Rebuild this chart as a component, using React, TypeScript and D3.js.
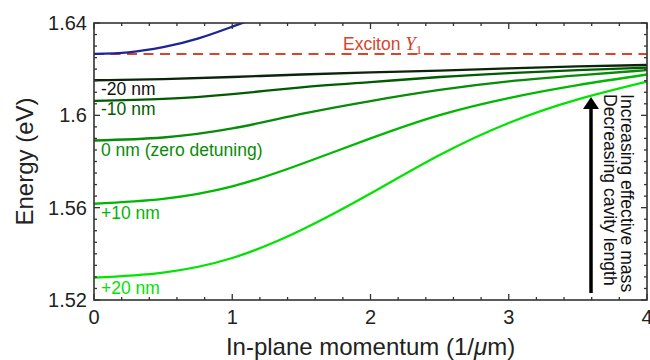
import * as d3 from "d3";

// in-plane momentum grid (1/um)
const momentum = [0, 0.5, 1, 1.5, 2, 2.5, 3, 3.5, 4];

// lower polariton branches (eV)
const lpMinus20 = [1.6152, 1.6157, 1.6166, 1.6177, 1.6186, 1.6194, 1.6203, 1.6212, 1.6218];
const lpMinus10 = [1.6063, 1.6071, 1.6092, 1.6121, 1.6144, 1.6166, 1.6183, 1.6196, 1.6207];
const lpZero = [1.5891, 1.5904, 1.5943, 1.6006, 1.6062, 1.611, 1.6147, 1.6173, 1.6196];
const lpPlus10 = [1.5617, 1.5638, 1.5692, 1.5789, 1.59, 1.6001, 1.6075, 1.6131, 1.6177];
const lpPlus20 = [1.5297, 1.5319, 1.5382, 1.5503, 1.5661, 1.5828, 1.5967, 1.6069, 1.6146];

// bare cavity photon (clipped at the top of the frame)
const photonK = [0, 0.25, 0.5, 0.75, 1.0, 1.1];
const photonE = [1.6266, 1.6273, 1.6295, 1.6332, 1.6384, 1.6406];

const excitonEnergy = 1.6266;

const branchNames = ["-20 nm", "-10 nm", "0 nm (zero detuning)", "+10 nm", "+20 nm"];
const branchColors = ["#0b240b", "#005c00", "#088c08", "#00b800", "#00e400"];
const branches = [lpMinus20, lpMinus10, lpZero, lpPlus10, lpPlus20];

const xTickValues = [0, 1, 2, 3, 4];
const yTickValues = [1.52, 1.56, 1.6, 1.64];
const yTickLabels = ["1.52", "1.56", "1.6", "1.64"];

const W = 650;
const H = 360;
const margin = { top: 23, right: 3, bottom: 60, left: 94 };
const font = "'Liberation Sans', Arial, Helvetica, sans-serif";

export default function App() {
  const x = d3.scaleLinear().domain([0, 4]).range([margin.left, W - margin.right]);
  const y = d3.scaleLinear().domain([1.52, 1.64]).range([H - margin.bottom, margin.top]);

  const line = d3
    .line<[number, number]>()
    .x((d) => x(d[0]))
    .y((d) => y(d[1]))
    .curve(d3.curveNatural);

  const x0 = x(0), x1 = x(4), y0 = y(1.52), y1 = y(1.64);
  const xMinor = x.ticks(20);
  const yMinor = y.ticks(24);
  const axisColor = "#333";

  const ticks: JSX.Element[] = [];
  xMinor.forEach((v, i) => {
    const major = xTickValues.some((t) => Math.abs(t - v) < 1e-9);
    const len = major ? 6 : 3;
    ticks.push(<line key={"xb" + i} x1={x(v)} x2={x(v)} y1={y0} y2={y0 - len} stroke={axisColor} strokeWidth={1.3} />);
    ticks.push(<line key={"xt" + i} x1={x(v)} x2={x(v)} y1={y1} y2={y1 + len} stroke={axisColor} strokeWidth={1.3} />);
  });
  yMinor.forEach((v, i) => {
    const major = yTickValues.some((t) => Math.abs(t - v) < 1e-9);
    const len = major ? 6 : 3;
    ticks.push(<line key={"yl" + i} x1={x0} x2={x0 + len} y1={y(v)} y2={y(v)} stroke={axisColor} strokeWidth={1.3} />);
    ticks.push(<line key={"yr" + i} x1={x1} x2={x1 - len} y1={y(v)} y2={y(v)} stroke={axisColor} strokeWidth={1.3} />);
  });

  // label baselines sit just below each branch start
  const labelOffsets = [15, 14, 16, 15, 16];

  const arrowX = 591;
  const arrowTop = 97;
  const arrowBottom = 293;

  return (
    <svg
      width={W}
      height={H}
      style={{ position: "absolute", left: 0, top: 0, background: "#fff" }}
      fontFamily={font}
    >
      <defs>
        <clipPath id="plot">
          <rect x={x0} y={y1} width={x1 - x0} height={y0 - y1} />
        </clipPath>
      </defs>

      <g clipPath="url(#plot)">
        <line
          x1={x0}
          x2={x1}
          y1={y(excitonEnergy)}
          y2={y(excitonEnergy)}
          stroke="#d8442c"
          strokeWidth={2}
          strokeDasharray="10 6.5"
        />
        {branches.map((b, i) => (
          <path
            key={branchNames[i]}
            d={line(momentum.map((k, j) => [k, b[j]] as [number, number])) ?? ""}
            fill="none"
            stroke={branchColors[i]}
            strokeWidth={2.3}
          />
        ))}
        <path
          d={line(photonK.map((k, j) => [k, photonE[j]] as [number, number])) ?? ""}
          fill="none"
          stroke="#1c2496"
          strokeWidth={2.3}
        />
      </g>

      {branches.map((b, i) => (
        <text key={"lbl" + i} x={x0 + 7} y={y(b[0]) + labelOffsets[i]} fontSize={17.5} fill={i === 0 ? "#111" : branchColors[i]}>
          {branchNames[i]}
        </text>
      ))}

      <text x={343} y={49.5} fontSize={17.5} fill="#d8442c">
        Exciton{" "}
        <tspan fontFamily="'Liberation Serif', 'Times New Roman', serif" fontStyle="italic" fontSize={19}>Y</tspan>
        <tspan fontFamily="'Liberation Serif', 'Times New Roman', serif" fontSize={13} dy={4}>1</tspan>
      </text>

      {/* arrow */}
      <line x1={arrowX} x2={arrowX} y1={arrowBottom} y2={arrowTop + 8} stroke="#000" strokeWidth={3.5} />
      <path d={`M${arrowX},${arrowTop} L${arrowX - 8},${arrowTop + 12} L${arrowX + 8},${arrowTop + 12} Z`} fill="#000" />

      <text transform={`translate(621,94) rotate(90)`} fontSize={17.6} fill="#111">
        Increasing effective mass
      </text>
      <text transform={`translate(604,94) rotate(90)`} fontSize={17.6} fill="#111">
        Decreasing cavity length
      </text>

      {/* frame */}
      <rect x={x0} y={y1} width={x1 - x0} height={y0 - y1} fill="none" stroke={axisColor} strokeWidth={1.6} />
      {ticks}

      {xTickValues.map((v) => (
        <text key={"xl" + v} x={x(v)} y={y0 + 24} fontSize={20} textAnchor="middle" fill="#222">
          {v}
        </text>
      ))}
      {yTickValues.map((v, i) => (
        <text key={"yl" + v} x={x0 - 7} y={y(v) + 7} fontSize={20} textAnchor="end" fill="#222">
          {yTickLabels[i]}
        </text>
      ))}

      <text x={(x0 + x1) / 2} y={355} fontSize={24} textAnchor="middle" fill="#222">
        In-plane momentum (1/<tspan fontStyle="italic">μ</tspan>m)
      </text>
      <text transform={`translate(33,${(y0 + y1) / 2}) rotate(-90)`} fontSize={24} textAnchor="middle" fill="#222">
        Energy (eV)
      </text>
    </svg>
  );
}
